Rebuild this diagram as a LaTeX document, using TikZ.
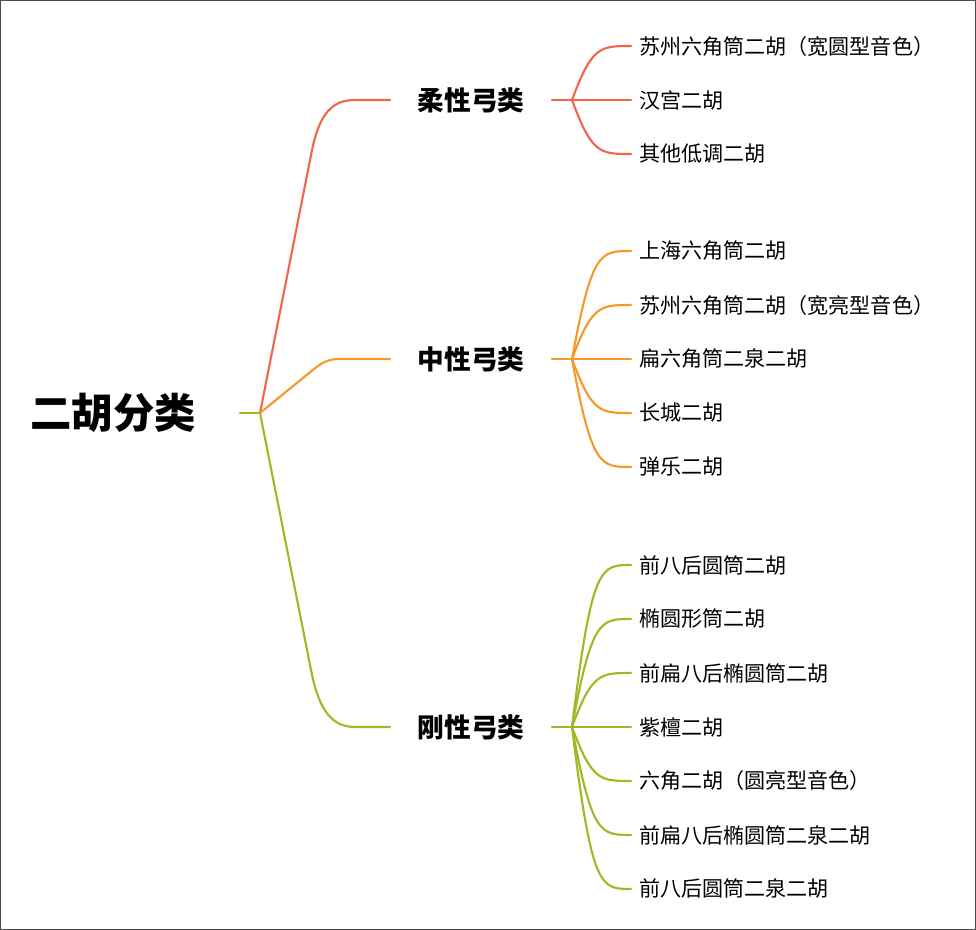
\documentclass[tikz,border=0pt]{standalone}
\usepackage{fontspec}
\setmainfont{Noto Sans CJK SC}
\usetikzlibrary{positioning}
\definecolor{softred}{HTML}{F2654A}
\definecolor{midorange}{HTML}{F7982A}
\definecolor{hardgreen}{HTML}{9DBB27}
\tikzset{
  leaf/.style={anchor=west, inner sep=0pt, font=\fontsize{15.8}{16}\selectfont},
  branch/.style={inner sep=0pt, font=\fontsize{20}{20}\selectfont\bfseries},
  link/.style={line width=1.6pt, line cap=round}
}
\begin{document}
\begin{tikzpicture}[x=0.75pt, y=-0.75pt]
  % frame
  \draw[black!70, line width=0.8pt] (0.5,0.5) rectangle (975.5,929.5);

  % root
  \node[inner sep=0pt, font=\fontsize{31}{31}\selectfont\bfseries] (root) at (113,413) {二胡分类};
  \coordinate (rootin) at (240,413);
  \coordinate (hub) at (260,413);
  \draw[link, hardgreen] (rootin) -- (hub);

  % branches
  \node[branch] (soft) at (471,100) {柔性弓类};
  \node[branch] (mid) at (471,359) {中性弓类};
  \node[branch] (hard) at (471,727) {刚性弓类};
  \foreach \nm/\y/\c in {soft/100/softred, mid/359/midorange, hard/727/hardgreen} {
    \coordinate (\nm in) at (390,\y);
    \coordinate (\nm out) at (552,\y);
    \coordinate (\nm hub) at (572,\y);
    \draw[link, \c] (\nm out) -- (\nm hub);
  }
  \draw[link, softred] (hub) -- (312,150) .. controls (320,112) and (333,100) .. (355,100) -- (softin);
  \draw[link, midorange] (hub) -- (314,369) .. controls (324,361) and (330,359) .. (340,359) -- (midin);
  \draw[link, hardgreen] (hub) -- (312,675) .. controls (320,712) and (333,727) .. (355,727) -- (hardin);

  % leaves
  \foreach \i/\y/\t in {1/46/苏州六角筒二胡（宽圆型音色）, 2/100/汉宫二胡, 3/154/其他低调二胡} {
    \node[leaf] (soft\i) at (639,\y) {\t};
    \draw[link, softred] (softhub) .. controls (592,\y) and (600,\y) .. ([xshift=-6pt]soft\i.west);
  }
  \foreach \i/\y/\t in {1/251/上海六角筒二胡, 2/305/苏州六角筒二胡（宽亮型音色）, 3/359/扁六角筒二泉二胡, 4/413/长城二胡, 5/467/弹乐二胡} {
    \node[leaf] (mid\i) at (639,\y) {\t};
    \draw[link, midorange] (midhub) .. controls (592,\y) and (600,\y) .. ([xshift=-6pt]mid\i.west);
  }
  \foreach \i/\y/\t in {1/565/前八后圆筒二胡, 2/619/椭圆形筒二胡, 3/673/前扁八后椭圆筒二胡, 4/727/紫檀二胡, 5/781/六角二胡（圆亮型音色）, 6/835/前扁八后椭圆筒二泉二胡, 7/889/前八后圆筒二泉二胡} {
    \node[leaf] (hard\i) at (639,\y) {\t};
    \draw[link, hardgreen] (hardhub) .. controls (592,\y) and (600,\y) .. ([xshift=-6pt]hard\i.west);
  }
\end{tikzpicture}
\end{document}
